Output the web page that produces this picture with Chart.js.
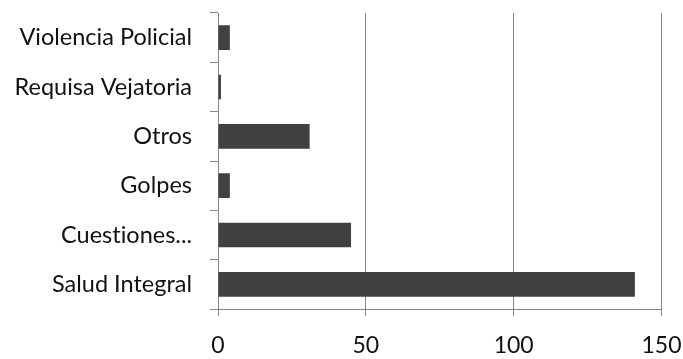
<!DOCTYPE html>
<html>
<head>
<meta charset="utf-8">
<script src="https://cdn.jsdelivr.net/npm/chart.js@4/dist/chart.umd.min.js"></script>
<style>
  html, body { margin: 0; padding: 0; background: #ffffff; }
  #wrap { width: 683px; height: 359px; }
</style>
</head>
<body>
<div id="wrap"><canvas id="chart" width="683" height="359"></canvas></div>
<script>
// Categories, top to bottom (a zero-width non-joiner keeps "ti" from forming a ligature)
const categories = ['Violencia Policial', 'Requisa Vejatoria', 'Otros', 'Golpes', 'Cuest\u200Ciones...', 'Salud Integral'];
// Number of cases per category
const values = [4, 1, 31, 4, 45, 141];
// Value axis ticks
const xTickValues = [0, 50, 100, 150];

const axisGrey = '#868686';
const fontFamily = 'Lato, "Noto Sans", sans-serif';

new Chart(document.getElementById('chart'), {
  type: 'bar',
  data: {
    labels: categories,
    datasets: [{
      data: values,
      backgroundColor: '#404040',
      borderWidth: 0,
      barPercentage: 0.5,
      categoryPercentage: 1.0
    }]
  },
  options: {
    indexAxis: 'y',
    responsive: false,
    animation: false,
    layout: { padding: { top: 13, right: 21.5, left: 0, bottom: 0 } },
    plugins: { legend: { display: false }, tooltip: { enabled: false } },
    scales: {
      x: {
        min: xTickValues[0],
        max: xTickValues[xTickValues.length - 1],
        afterBuildTicks: (scale) => { scale.ticks = xTickValues.map(v => ({ value: v })); },
        afterFit: (scale) => {
          scale.height = 50;
          scale.paddingLeft = 0;
          scale.paddingRight = 0;
        },
        grid: { color: axisGrey, lineWidth: 1, tickLength: 7, drawOnChartArea: true },
        border: { display: true, color: axisGrey, width: 1 },
        ticks: { color: '#111111', padding: 16, font: { family: fontFamily, size: 23 }, maxRotation: 0 }
      },
      y: {
        afterFit: (scale) => {
          scale.width = 218;
          scale.paddingTop = 0;
          scale.paddingBottom = 0;
        },
        grid: { color: axisGrey, lineWidth: 1, tickLength: 8, drawOnChartArea: false, offset: true },
        border: { display: true, color: axisGrey, width: 1 },
        ticks: { color: '#111111', padding: 18, font: { family: fontFamily, size: 23.5 }, autoSkip: false }
      }
    }
  }
});
</script>
</body>
</html>
